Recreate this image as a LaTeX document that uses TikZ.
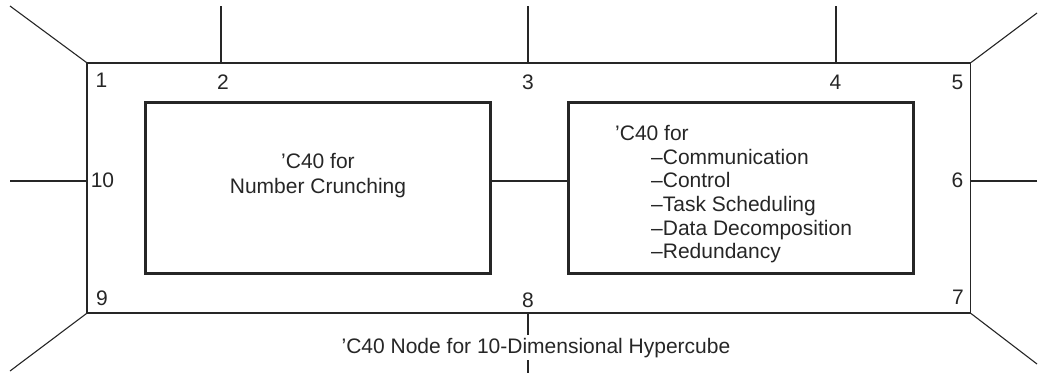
\documentclass[tikz,border=0pt]{standalone}
\usepackage{fontspec}
\setmainfont{Liberation Sans}
\definecolor{ink}{HTML}{262626}
\begin{document}
\begin{tikzpicture}[x=1pt,y=-1pt,
  thin line/.style={draw=ink,line width=1.1pt},
  cpubox/.style={draw=ink,line width=3pt,inner sep=0pt,minimum width=345pt,minimum height=171pt},
  lbl/.style={inner sep=0pt,text=ink,font=\fontsize{21}{25}\selectfont},
  lline/.style={lbl,anchor=base west},
  cline/.style={lbl,anchor=base}]
\useasboundingbox (0,0) rectangle (1038,373);
% outer node boundary
\node[thin line,inner sep=0pt,minimum width=883.5pt,minimum height=250pt] (outer) at (528.75,188) {};
% inner processor boxes
\node[cpubox] (left) at (317.5,188) {};
\node[cpubox] (right) at (740.5,188) {};
% free ends of the links
\coordinate (e1) at (10,6);
\coordinate (e5) at (1037,13);
\coordinate (e7) at (1037,364);
\coordinate (e9) at (10,371);
\coordinate (e2) at (221,6);
\coordinate (e3) at (528,6);
\coordinate (e4) at (836,6);
\coordinate (e10) at (10,181);
\coordinate (e6) at (1037,181);
\coordinate (e8) at (528,373);
\coordinate (p2) at (221,63);
\coordinate (p3) at (528,63);
\coordinate (p4) at (836,63);
\coordinate (p8) at (528,313);
\draw[thin line] (e1) -- (outer.north west);
\draw[thin line] (e5) -- (outer.north east);
\draw[thin line] (e7) -- (outer.south east);
\draw[thin line] (e9) -- (outer.south west);
\draw[thin line] (e2) -- (p2);
\draw[thin line] (e3) -- (p3);
\draw[thin line] (e4) -- (p4);
\draw[thin line] (e10) -- (e10 -| outer.west);
\draw[thin line] (e6) -- (e6 -| outer.east);
\draw[thin line] (p8) -- (e8);
\draw[thin line] (left.east |- 0,181) -- (right.west |- 0,181);
% link numbers
\node[lbl] (n1) at (101.5,80) {1};
\node[lbl] (n2) at (223,82) {2};
\node[lbl] (n3) at (528,82) {3};
\node[lbl] (n4) at (835.5,82) {4};
\node[lbl] (n5) at (957.5,82.5) {5};
\node[lbl] (n6) at (957.5,180.5) {6};
\node[lbl] (n7) at (958,297) {7};
\node[lbl] (n8) at (528,300) {8};
\node[lbl] (n9) at (102,298) {9};
\node[lbl] (n10) at (102.5,180) {10};
% left box text
\node[cline] (l1) at (318,168) {’C40 for};
\node[cline] (l2) at (318,193) {Number Crunching};
% right box text
\node[lline] (r1) at (615,140) {’C40 for};
\node[lline] (r2) at (651,164) {–Communication};
\node[lline] (r3) at (651,187.5) {–Control};
\node[lline] (r4) at (651,211) {–Task Scheduling};
\node[lline] (r5) at (651,235) {–Data Decomposition};
\node[lline] (r6) at (651,258.5) {–Redundancy};
% caption
\node[cline,fill=white,inner sep=3pt] (cap) at (536,353) {’C40 Node for 10-Dimensional Hypercube};
\end{tikzpicture}
\end{document}
